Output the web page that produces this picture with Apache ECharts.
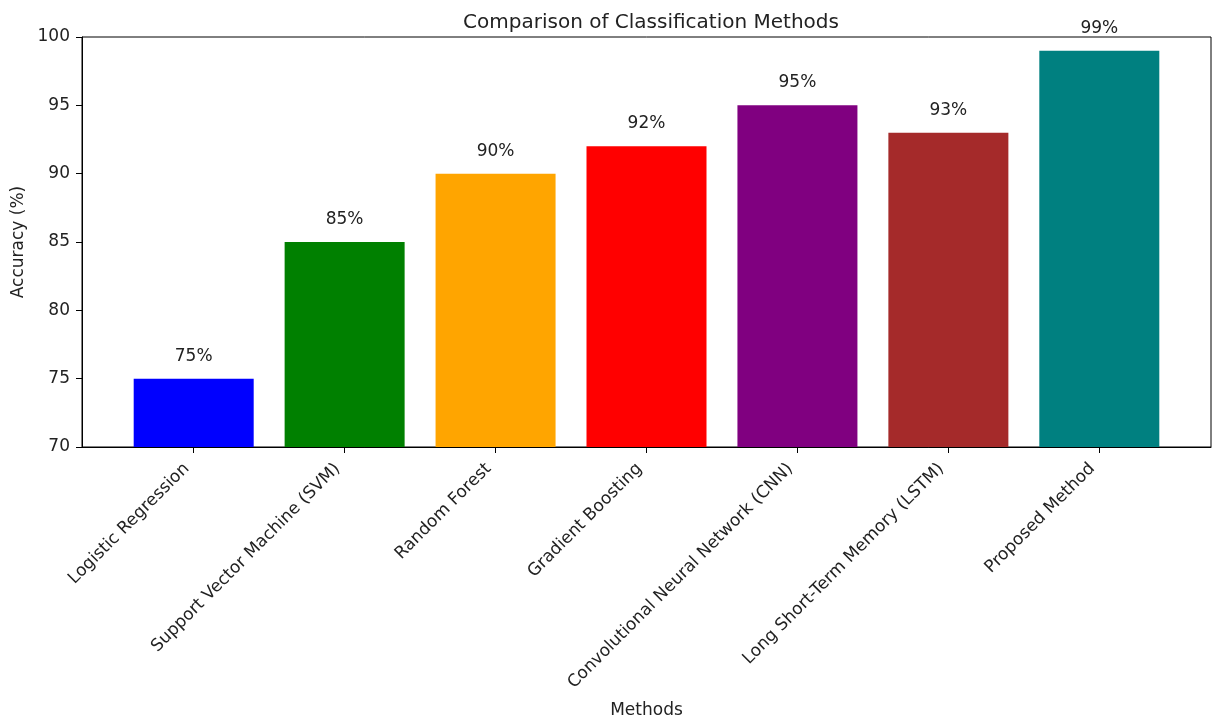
<!DOCTYPE html>
<html>
<head>
<meta charset="utf-8">
<script src="https://cdn.jsdelivr.net/npm/echarts@6/dist/echarts.min.js"></script>
<style>
  html, body { margin: 0; padding: 0; background: #fff; }
  #chart { width: 1212px; height: 715px; }
</style>
</head>
<body>
<div id="chart"></div>
<script>
const categories = [
  'Logistic Regression',
  'Support Vector Machine (SVM)',
  'Random Forest',
  'Gradient Boosting',
  'Convolutional Neural Network (CNN)',
  'Long Short-Term Memory (LSTM)',
  'Proposed Method'
];
const accuracy = [75, 85, 90, 92, 95, 93, 99];
const barColors = ['#0000ff', '#008000', '#ffa500', '#ff0000', '#800080', '#a52a2a', '#008080'];
const yTicks = [70, 75, 80, 85, 90, 95, 100];

const FONT = 'DejaVu Sans';
const TXT = '#222';
const positions = categories.map((_, i) => i);

const chart = echarts.init(document.getElementById('chart'), null, { renderer: 'canvas' });
chart.setOption({
  animation: false,
  backgroundColor: '#fff',
  title: {
    text: 'Comparison of Classification Methods',
    left: 646, top: 8, textAlign: 'center',
    textStyle: { fontFamily: FONT, fontSize: 20, fontWeight: 'normal', color: TXT }
  },
  grid: {
    left: 82, top: 37, right: 1, bottom: 268,
    containLabel: false,
    outerBoundsMode: 'none',
    show: true, borderColor: '#000', borderWidth: 1, backgroundColor: 'transparent'
  },
  xAxis: {
    type: 'value',
    min: -0.74, max: 6.74,
    name: 'Methods',
    nameLocation: 'middle',
    nameGap: 255,
    nameTextStyle: { fontFamily: FONT, fontSize: 17, color: TXT },
    splitLine: { show: false },
    axisLine: { show: true, onZero: false, lineStyle: { color: '#000', width: 1 } },
    axisTick: { show: true, length: 6, inside: false, customValues: positions, lineStyle: { color: '#000' } },
    axisLabel: {
      customValues: positions,
      rotate: 45,
      margin: 12,
      padding: [0, 10, 0, 0],
      hideOverlap: false,
      fontFamily: FONT, fontSize: 17, color: TXT,
      formatter: v => categories[Math.round(v)] || ''
    }
  },
  yAxis: {
    type: 'value',
    min: yTicks[0], max: yTicks[yTicks.length - 1], interval: 5,
    name: 'Accuracy (%)',
    nameLocation: 'middle',
    nameRotate: 90,
    nameGap: 53,
    nameTextStyle: { fontFamily: FONT, fontSize: 17, color: TXT },
    splitLine: { show: false },
    axisLine: { show: true, onZero: false, lineStyle: { color: '#000', width: 1 } },
    axisTick: { show: true, length: 6, inside: false, lineStyle: { color: '#000' } },
    axisLabel: { margin: 12, fontFamily: FONT, fontSize: 17, color: TXT }
  },
  series: [{
    type: 'bar',
    barWidth: 120,
    data: accuracy.map((v, i) => ({ value: [positions[i], v], itemStyle: { color: barColors[i] } })),
    label: {
      show: true,
      position: 'top',
      distance: 14,
      fontFamily: FONT, fontSize: 17, color: TXT,
      formatter: p => p.value[1] + '%'
    }
  }]
});
</script>
</body>
</html>
